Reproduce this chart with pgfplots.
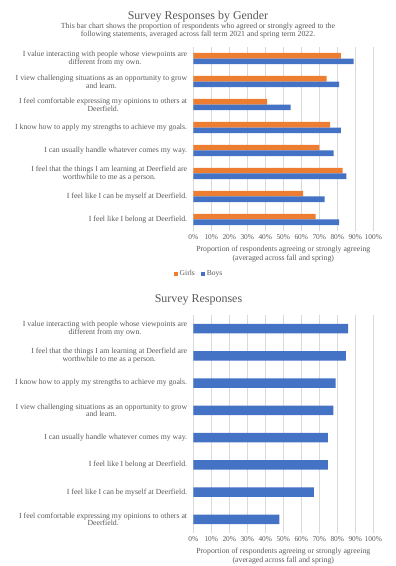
\documentclass[border=0pt]{standalone}
\usepackage{fontspec}
\setmainfont{Liberation Serif}
\usepackage{pgfplots}
\pgfplotsset{compat=1.18}
\definecolor{xlorange}{HTML}{ED7D31}
\definecolor{xlblue}{HTML}{4472C4}
\definecolor{txtgray}{HTML}{595959}
\definecolor{gridgray}{HTML}{D9D9D9}
\pgfplotsset{
  surveyaxis/.style={
    xbar, scale only axis, width=180bp, anchor=south west,
    xmin=0, xmax=100, xtick={0,10,...,100},
    xticklabels={0\%,10\%,20\%,30\%,40\%,50\%,60\%,70\%,80\%,90\%,100\%},
    ymin=-0.5, ymax=7.5, ytick={0,...,7},
    xmajorgrids, major grid style={gridgray, line width=0.7bp},
    axis line style={draw=none},
    major tick length=0pt,
    xticklabel style={font=\fontsize{7.4}{7.4}\selectfont, text=txtgray},
    yticklabel style={font=\fontsize{7.8}{7.8}\selectfont, text=txtgray, align=center, anchor=east, inner sep=0pt, xshift=-6bp},
    xlabel={Proportion of respondents agreeing or strongly agreeing\\(averaged across fall and spring)},
    xlabel style={font=\fontsize{7.8}{8.4}\selectfont, text=txtgray, align=center},
  }
}
\begin{document}
\begin{tikzpicture}
\useasboundingbox (0,0) rectangle (396bp,566bp);
% ---------- top chart ----------
\node[font=\fontsize{12}{12}\selectfont, text=txtgray] at (198bp,549bp) {Survey Responses by Gender};
\node[font=\fontsize{7.8}{8}\selectfont, text=txtgray, align=center] at (198bp,535bp)
  {This bar chart shows the proportion of respondents who agreed or strongly agreed to the\\following statements, averaged across fall term 2021 and spring term 2022.};
\begin{axis}[surveyaxis, at={(193.3bp,335bp)}, height=184bp,
  bar width=5.7bp,
  yticklabels={{I feel like I belong at Deerfield.},
               {I feel like I can be myself at Deerfield.},
               {I feel that the things I am learning at Deerfield are\\worthwhile to me as a person.},
               {I can usually handle whatever comes my way.},
               {I know how to apply my strengths to achieve my goals.},
               {I feel comfortable expressing my opinions to others at\\Deerfield.},
               {I view challenging situations as an opportunity to grow\\and learn.},
               {I value interacting with people whose viewpoints are\\different from my own.}},
  legend style={at={(0.032,-0.234)}, anchor=center, draw=none, legend columns=2,
    font=\fontsize{7.6}{7.6}\selectfont, text=txtgray,
    /tikz/every even column/.append style={column sep=4bp}},
  legend image code/.code={\fill[#1] (0bp,-2bp) rectangle (4bp,2bp);},
]
\addplot[fill=xlorange, draw=none, bar shift=2.85bp] coordinates {
  (68,0) (61,1) (83,2) (70,3) (76,4) (41,5) (74,6) (82,7)};
\addlegendentry{Girls}
\addplot[fill=xlblue, draw=none, bar shift=-2.85bp] coordinates {
  (81,0) (73,1) (85,2) (78,3) (82,4) (54,5) (81,6) (89,7)};
\addlegendentry{Boys}
\end{axis}
% ---------- bottom chart ----------
\node[font=\fontsize{12}{12}\selectfont, text=txtgray] at (198.5bp,266bp) {Survey Responses};
\begin{axis}[surveyaxis, at={(193.3bp,33bp)}, height=218bp,
  bar width=9.6bp,
  yticklabels={{I feel comfortable expressing my opinions to others at\\Deerfield.},
               {I feel like I can be myself at Deerfield.},
               {I feel like I belong at Deerfield.},
               {I can usually handle whatever comes my way.},
               {I view challenging situations as an opportunity to grow\\and learn.},
               {I know how to apply my strengths to achieve my goals.},
               {I feel that the things I am learning at Deerfield are\\worthwhile to me as a person.},
               {I value interacting with people whose viewpoints are\\different from my own.}},
]
\addplot[fill=xlblue, draw=none, bar shift=0pt] coordinates {
  (47.8,0) (67,1) (74.8,2) (74.8,3) (77.8,4) (79,5) (84.8,6) (86,7)};
\end{axis}
\end{tikzpicture}
\end{document}
